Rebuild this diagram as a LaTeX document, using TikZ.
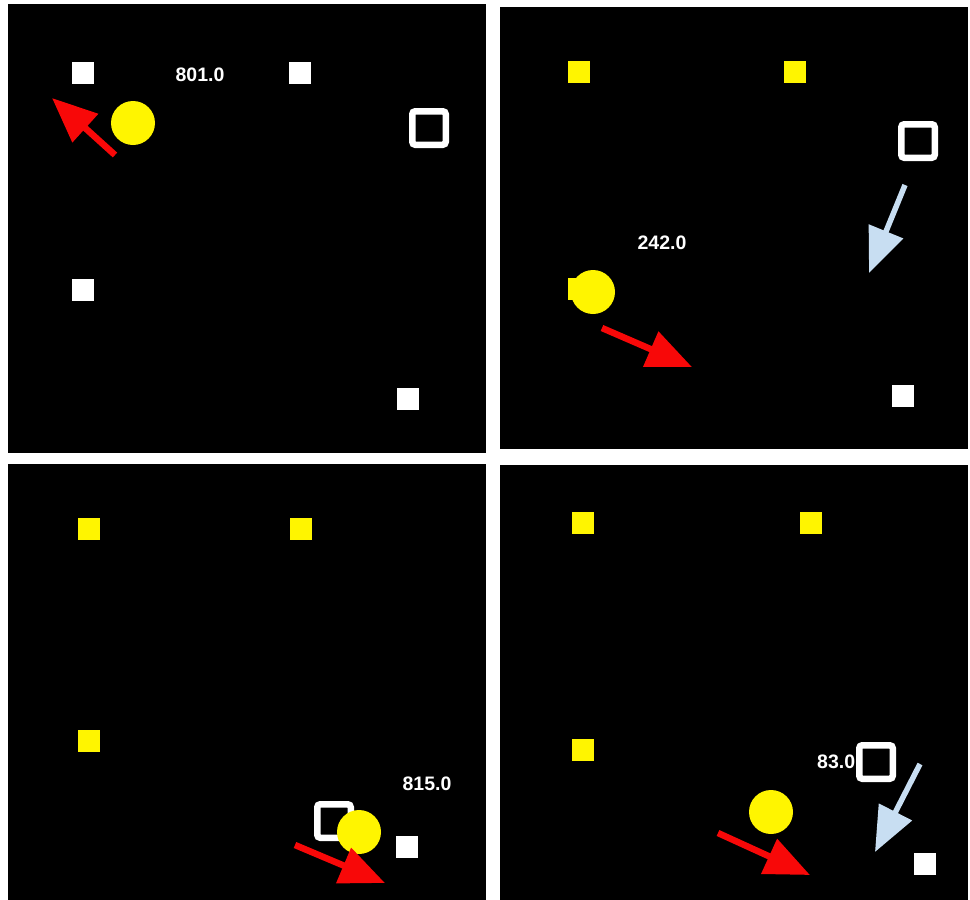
\documentclass[tikz,border=0pt]{standalone}
\usepackage{fontspec}
\setmainfont{Liberation Sans}
\usepackage{tikz}
\usetikzlibrary{arrows.meta}
\definecolor{ballyellow}{RGB}{255,245,0}
\definecolor{pushred}{RGB}{248,8,8}
\definecolor{paleblue}{RGB}{200,222,242}

\begin{document}
\begin{tikzpicture}[x=1pt, y=-1pt,
  block/.style={fill=white, minimum size=22pt, inner sep=0pt},
  tile/.style={fill=ballyellow, minimum size=22pt, inner sep=0pt},
  goal/.style={draw=white, line width=6.5pt, rounded corners=3pt, minimum size=33.5pt, inner sep=0pt},
  ball/.style={circle, fill=ballyellow, minimum size=44pt, inner sep=0pt},
  score/.style={text=white, font=\bfseries\fontsize{19.5}{20}\selectfont, inner sep=0pt},
  push/.style={pushred, line width=6.5pt, -{Triangle[length=45pt, width=37pt]}},
  pull/.style={paleblue, line width=5.5pt, -{Triangle[length=45pt, width=36pt]}}]
  \useasboundingbox (0,0) rectangle (970,900);
  \fill[white] (0,0) rectangle (970,900);

  % four frames
  \fill[black] (8,4) rectangle (486,453);
  \fill[black] (500,7) rectangle (968,449);
  \fill[black] (8,464) rectangle (486,900);
  \fill[black] (500,465) rectangle (968,900);

  % top left
  \node[block] (tl-b1) at (83,73) {};
  \node[block] (tl-b2) at (300,73) {};
  \node[block] (tl-b3) at (83,290) {};
  \node[block] (tl-b4) at (408,399) {};
  \node[score] (tl-score) at (200,75) {801.0};
  \node[goal] (tl-goal) at (429,128) {};
  \node[ball] (tl-ball) at (133,123) {};
  \coordinate (tl-tail) at (115,155);
  \coordinate (tl-tip) at (52,98);
  \draw[push] (tl-tail) -- (tl-tip);

  % top right
  \node[tile] (tr-b1) at (579,72) {};
  \node[tile] (tr-b2) at (795,72) {};
  \node[tile] (tr-b3) at (579,289) {};
  \node[block] (tr-b4) at (903,396) {};
  \node[score] (tr-score) at (662,243) {242.0};
  \node[goal] (tr-goal) at (918,141) {};
  \node[ball] (tr-ball) at (593,292) {};
  \coordinate (tr-tail) at (602,328);
  \coordinate (tr-tip) at (692,367);
  \draw[push] (tr-tail) -- (tr-tip);
  \coordinate (tr-from) at (905,185);
  \coordinate (tr-to) at (869,273);
  \draw[pull] (tr-from) -- (tr-to);

  % bottom left
  \node[tile] (bl-b1) at (89,529) {};
  \node[tile] (bl-b2) at (301,529) {};
  \node[tile] (bl-b3) at (89,741) {};
  \node[block] (bl-b4) at (407,847) {};
  \node[score] (bl-score) at (427,784) {815.0};
  \node[goal] (bl-goal) at (334,821) {};
  \node[ball] (bl-ball) at (359,832) {};
  \coordinate (bl-tail) at (295,845);
  \coordinate (bl-tip) at (385,883);
  \draw[push] (bl-tail) -- (bl-tip);

  % bottom right
  \node[tile] (br-b1) at (583,523) {};
  \node[tile] (br-b2) at (811,523) {};
  \node[tile] (br-b3) at (583,750) {};
  \node[block] (br-b4) at (925,864) {};
  \node[score, anchor=west] (br-score) at (817,762) {83.0};
  \node[goal] (br-goal) at (876,762) {};
  \node[ball] (br-ball) at (771,812) {};
  \coordinate (br-tail) at (718,833);
  \coordinate (br-tip) at (810,875);
  \draw[push] (br-tail) -- (br-tip);
  \coordinate (br-from) at (920,764);
  \coordinate (br-to) at (875,852);
  \draw[pull] (br-from) -- (br-to);
\end{tikzpicture}
\end{document}
